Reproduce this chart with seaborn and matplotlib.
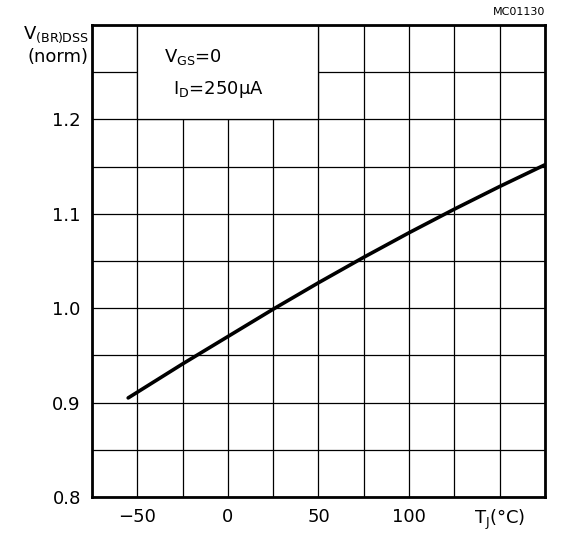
import numpy as np
import pandas as pd
import matplotlib.pyplot as plt
import matplotlib.patches as mpatches
import seaborn as sns

# values
temp_c = [-55, -25, 0, 25, 50, 75, 100, 125, 150, 175]
vbr_norm = [0.905, 0.941, 0.970, 0.999, 1.027, 1.054, 1.080, 1.105, 1.129, 1.152]

x_ticks = [-50, 0, 50, 100, 150]
x_labels = ['\u221250', '0', '50', '100', 'T$_{\\rm J}$(\u00b0C)']
y_ticks = [0.8, 0.9, 1.0, 1.1, 1.2]
y_labels = ['0.8', '0.9', '1.0', '1.1', '1.2']

df = pd.DataFrame({'T': temp_c, 'V': vbr_norm})

sns.set_style('white')
plt.rcParams['font.family'] = ['DejaVu Sans']
plt.rcParams['text.color'] = 'k'
plt.rcParams['xtick.color'] = 'k'
plt.rcParams['ytick.color'] = 'k'
fontsize = 13

fig = plt.figure(figsize=(5.71, 5.33), dpi=100)
ax = fig.add_axes([0.161, 0.0675, 0.7935, 0.8855])

# grid every 25 degC / 0.05
for xv in np.arange(-75, 176, 25):
    ax.axvline(xv, color='k', lw=0.9, zorder=0.5)
for yv in np.arange(0.8, 1.301, 0.05):
    ax.axhline(yv, color='k', lw=0.9, zorder=0.5)

# white box holding the test conditions
ax.add_patch(mpatches.Rectangle((-50, 1.2), 100, 0.1, facecolor='white',
                                edgecolor='k', linewidth=0.9, zorder=1))

sns.lineplot(x='T', y='V', data=df, color='k', linewidth=2.6, ax=ax, zorder=3)

ax.set_xlim(-75, 175)
ax.set_ylim(0.8, 1.3)
ax.set_xticks(x_ticks)
ax.set_xticklabels(x_labels)
ax.set_yticks(y_ticks)
ax.set_yticklabels(y_labels)
ax.tick_params(axis='both', length=0, labelsize=fontsize, pad=8)
ax.set_xlabel('')
ax.set_ylabel('')

for s in ax.spines.values():
    s.set_linewidth(2)
    s.set_color('k')
    s.set_zorder(4)

ax.text(-35, 1.266, 'V$_{\\rm GS}$=0', fontsize=fontsize, va='center', zorder=5)
ax.text(-30, 1.232, 'I$_{\\rm D}$=250\u03bcA', fontsize=fontsize, va='center', zorder=5)

fig.text(0.155, 0.935, 'V$_{\\rm (BR)DSS}$', fontsize=fontsize, ha='right', va='center')
fig.text(0.155, 0.893, '(norm)', fontsize=fontsize, ha='right', va='center')
fig.text(0.955, 0.978, 'MC01130', fontsize=8, ha='right', va='center')

plt.savefig('out.png', dpi=100)
